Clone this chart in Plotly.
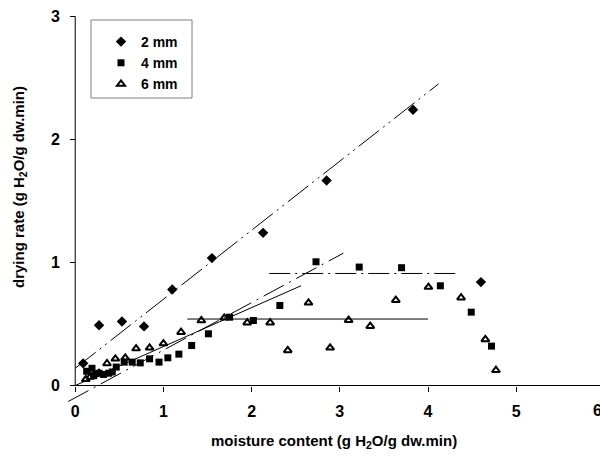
import plotly.graph_objects as go

# ---- data ----
x_2mm = [0.09, 0.27, 0.53, 0.78, 1.10, 1.55, 2.13, 2.85, 3.83, 4.60]
y_2mm = [0.18, 0.49, 0.52, 0.48, 0.78, 1.035, 1.24, 1.665, 2.24, 0.84]

x_4mm = [0.13, 0.19, 0.21, 0.27, 0.32, 0.38, 0.42, 0.465, 0.555, 0.646, 0.737, 0.843, 0.95,
         1.05, 1.175, 1.32, 1.51, 1.75, 2.02, 2.32, 2.73, 3.22, 3.70, 4.14, 4.49, 4.72]
y_4mm = [0.116, 0.14, 0.08, 0.10, 0.09, 0.10, 0.11, 0.15, 0.19, 0.19, 0.184, 0.217, 0.19,
         0.225, 0.255, 0.325, 0.42, 0.555, 0.528, 0.65, 1.005, 0.962, 0.957, 0.81, 0.596, 0.32]

x_6mm = [0.12, 0.17, 0.22, 0.27, 0.36, 0.455, 0.567, 0.69, 0.843, 1.00, 1.20, 1.43, 1.69,
         1.95, 2.21, 2.41, 2.645, 2.89, 3.10, 3.345, 3.635, 4.005, 4.375, 4.65, 4.77]
y_6mm = [0.05, 0.07, 0.09, 0.10, 0.179, 0.217, 0.225, 0.30, 0.306, 0.341, 0.433, 0.528, 0.55,
         0.51, 0.51, 0.285, 0.672, 0.306, 0.531, 0.482, 0.693, 0.80, 0.713, 0.374, 0.124]

fit_2mm_x = [0.0, 4.12]
fit_2mm_y = [0.14, 2.45]
fit_4mm_rise_x = [-0.08, 3.04]
fit_4mm_rise_y = [-0.13, 1.075]
fit_4mm_flat_x = [2.2, 4.31]
fit_4mm_flat_y = [0.91, 0.91]
fit_6mm_rise_x = [0.0, 2.56]
fit_6mm_rise_y = [0.0, 0.81]
fit_6mm_flat_x = [1.27, 4.0]
fit_6mm_flat_y = [0.54, 0.54]

x_ticks = [0, 1, 2, 3, 4, 5]
y_ticks = [0, 1, 2, 3]

XMIN, XMAX = -0.15, 5.95
YMIN, YMAX = -0.15, 3.001

FONT = "Liberation Sans, Arial, sans-serif"

fig = go.Figure()

line_style = dict(color="black", width=1)
fig.add_trace(go.Scatter(x=fit_2mm_x, y=fit_2mm_y, mode="lines", showlegend=False,
                         line=dict(color="black", width=1, dash="26px,5px,2px,5px,2px,5px")))
fig.add_trace(go.Scatter(x=fit_4mm_rise_x, y=fit_4mm_rise_y, mode="lines", showlegend=False,
                         line=dict(color="black", width=1, dash="23px,6px,2px,6px")))
fig.add_trace(go.Scatter(x=fit_4mm_flat_x, y=fit_4mm_flat_y, mode="lines", showlegend=False,
                         line=dict(color="black", width=1, dash="21px,5px,2px,5px")))
fig.add_trace(go.Scatter(x=fit_6mm_rise_x, y=fit_6mm_rise_y, mode="lines", showlegend=False,
                         line=line_style))
fig.add_trace(go.Scatter(x=fit_6mm_flat_x, y=fit_6mm_flat_y, mode="lines", showlegend=False,
                         line=line_style))

fig.add_trace(go.Scatter(x=x_2mm, y=y_2mm, mode="markers", name="2 mm",
                         marker=dict(symbol="diamond", size=8, color="black")))
fig.add_trace(go.Scatter(x=x_4mm, y=y_4mm, mode="markers", name="4 mm",
                         marker=dict(symbol="square", size=7, color="black")))
fig.add_trace(go.Scatter(x=x_6mm, y=y_6mm, mode="markers", name="6 mm",
                         marker=dict(symbol="triangle-up-open", size=7, color="black",
                                     line=dict(width=2, color="black"))))

# axis lines (drawn from the origin)
fig.add_shape(type="line", xref="x", yref="y", x0=0, x1=XMAX, y0=0, y1=0,
              line=dict(color="black", width=1))
fig.add_shape(type="line", xref="x", yref="y", x0=0, x1=0, y0=0, y1=3,
              line=dict(color="black", width=1))

L, R, T, B = 62, 0, 16, 52
W, H = 600, 456
PW, PH = W - L - R, H - T - B


def px2paper(px, py):
    return (px - L) / PW, 1 - (py - T) / PH


# legend box
bx0, by0 = px2paper(91, 20)
bx1, by1 = px2paper(192, 98)
fig.add_shape(type="rect", xref="paper", yref="paper", x0=bx0, x1=bx1, y0=by1, y1=by0,
              line=dict(color="#7f7f7f", width=1), fillcolor="rgba(0,0,0,0)")

lx, ly = px2paper(101, 26)

TICKFONT = dict(family=FONT, size=16, color="black", weight="bold")

fig.update_layout(
    width=W, height=H,
    margin=dict(l=L, r=R, t=T, b=B),
    paper_bgcolor="white", plot_bgcolor="white",
    font=dict(family=FONT, size=14, color="black"),
    showlegend=True,
    legend=dict(x=lx, y=ly, xanchor="left", yanchor="top", bgcolor="rgba(0,0,0,0)",
                borderwidth=0, font=dict(family=FONT, size=14, color="black", weight="bold")),
    xaxis=dict(range=[XMIN, XMAX], domain=[0, 1], anchor="free",
               position=(0 - YMIN) / (YMAX - YMIN),
               showline=False, showgrid=False, zeroline=False,
               tickmode="array", tickvals=x_ticks, ticktext=[str(t) for t in x_ticks],
               ticks="outside", ticklen=5, tickcolor="black", tickfont=TICKFONT,
               ticklabelstandoff=6),
    yaxis=dict(range=[YMIN, YMAX], domain=[0, 1], anchor="free",
               position=(0 - XMIN) / (XMAX - XMIN),
               showline=False, showgrid=False, zeroline=False,
               tickmode="array", tickvals=y_ticks, ticktext=[str(t) for t in y_ticks],
               ticks="outside", ticklen=5, tickcolor="black", tickfont=TICKFONT,
               ticklabelstandoff=7),
)

# partially visible "6" tick label at the right edge
ax6, _ = px2paper(604, 0)
fig.add_annotation(x=ax6, y=(0 - YMIN) / (YMAX - YMIN), xref="paper", yref="paper",
                   text="6", showarrow=False, yanchor="top", yshift=-14, font=TICKFONT)

# axis titles
TITLEFONT = dict(family=FONT, size=15, color="black", weight="bold")
tx, ty = px2paper(334, 441)
fig.add_annotation(x=tx, y=ty, xref="paper", yref="paper", showarrow=False,
                   xanchor="center", yanchor="middle",
                   text="moisture content (g H<sub>2</sub>O/g dw.min)", font=TITLEFONT)
tx, ty = px2paper(19, 187)
fig.add_annotation(x=tx, y=ty, xref="paper", yref="paper", showarrow=False, textangle=-90,
                   xanchor="center", yanchor="middle",
                   text="drying rate (g H<sub>2</sub>O/g dw.min)", font=TITLEFONT)

fig.write_html("out.html")
